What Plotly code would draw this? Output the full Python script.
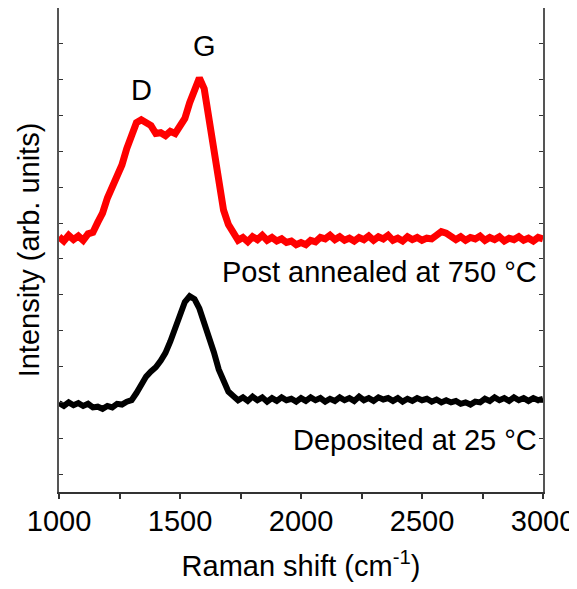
import plotly.graph_objects as go

# Raman shift axis (cm^-1), sampled every 20 cm^-1
raman_shift = list(range(1000, 3001, 20))

# Post annealed at 750 °C (offset upward)
post_annealed = [
    6.62, 6.50, 6.66, 6.54, 6.64, 6.52, 6.70, 6.74, 7.02, 7.28,
    7.70, 7.98, 8.36, 8.62, 9.08, 9.50, 9.80, 9.88, 9.78, 9.72,
    9.50, 9.52, 9.44, 9.56, 9.50, 9.70, 9.92, 10.36, 10.68, 11.05,
    10.75, 9.95, 8.98, 8.08, 7.36, 6.96, 6.70, 6.52, 6.60, 6.48,
    6.62, 6.54, 6.66, 6.52, 6.60, 6.50, 6.56, 6.46, 6.50, 6.40,
    6.46, 6.40, 6.52, 6.48, 6.60, 6.56, 6.66, 6.54, 6.62, 6.52,
    6.58, 6.50, 6.60, 6.54, 6.64, 6.52, 6.62, 6.56, 6.66, 6.52,
    6.58, 6.50, 6.62, 6.54, 6.60, 6.52, 6.58, 6.56, 6.66, 6.76,
    6.72, 6.60, 6.54, 6.62, 6.52, 6.60, 6.56, 6.64, 6.52, 6.60,
    6.54, 6.62, 6.50, 6.58, 6.54, 6.62, 6.52, 6.58, 6.50, 6.60,
    6.56,
]

# Deposited at 25 °C
deposited = [
    1.98, 1.90, 2.00, 1.92, 1.98, 1.90, 1.96, 1.86, 1.88, 1.82,
    1.90, 1.86, 1.96, 1.94, 2.02, 2.06, 2.26, 2.48, 2.72, 2.86,
    2.98, 3.16, 3.38, 3.70, 4.08, 4.48, 4.80, 4.96, 4.88, 4.62,
    4.24, 3.84, 3.40, 2.92, 2.56, 2.30, 2.18, 2.06, 2.14, 2.04,
    2.16, 2.06, 2.14, 2.02, 2.12, 2.04, 2.14, 2.06, 2.10, 2.02,
    2.12, 2.04, 2.14, 2.06, 2.12, 2.02, 2.10, 2.04, 2.14, 2.06,
    2.12, 2.04, 2.16, 2.06, 2.12, 2.04, 2.14, 2.08, 2.12, 2.04,
    2.12, 2.02, 2.10, 2.04, 2.12, 2.06, 2.10, 2.02, 2.08, 2.00,
    2.06, 2.00, 2.04, 1.96, 2.00, 1.94, 2.02, 2.00, 2.10, 2.04,
    2.14, 2.06, 2.12, 2.04, 2.14, 2.06, 2.12, 2.04, 2.12, 2.06,
    2.10,
]

FONT = "Liberation Sans, Arial, sans-serif"

fig = go.Figure()
fig.add_trace(go.Scatter(x=raman_shift, y=post_annealed, mode="lines",
                         line=dict(color="#ff0000", width=7), showlegend=False))
fig.add_trace(go.Scatter(x=raman_shift, y=deposited, mode="lines",
                         line=dict(color="#000000", width=6), showlegend=False))

ann_font = dict(family=FONT, size=29, color="#000000")
fig.add_annotation(x=1340, y=10.7, text="D", showarrow=False, font=ann_font, xanchor="center", yanchor="middle")
fig.add_annotation(x=1600, y=11.95, text="G", showarrow=False, font=ann_font, xanchor="center", yanchor="middle")
fig.add_annotation(x=2985, y=5.65, text="Post annealed at 750 °C", showarrow=False, font=ann_font, xanchor="right", yanchor="middle")
fig.add_annotation(x=2985, y=0.95, text="Deposited at 25 °C", showarrow=False, font=ann_font, xanchor="right", yanchor="middle")

# the page body adds an 8 px offset, so the figure is sized to fit the window
fig.update_layout(
    width=569, height=581,
    margin=dict(l=51, r=34, t=0, b=97, autoexpand=False),
    paper_bgcolor="white", plot_bgcolor="white",
    font=dict(family=FONT, size=29, color="#000000"),
)
fig.update_xaxes(
    range=[1000, 3000], dtick=500, tick0=1000,
    ticks="outside", ticklen=5, tickwidth=1.5, tickcolor="#333333",
    minor=dict(dtick=250, ticks="outside", ticklen=5, tickwidth=1.5, tickcolor="#333333"),
    showline=True, linecolor="#333333", linewidth=1.5, mirror="ticks",
    showgrid=False, zeroline=False, automargin=False,
    tickfont=dict(family=FONT, size=29), ticklabelstandoff=-3,
    title=dict(text="Raman shift (cm<sup>-1</sup>)", font=dict(family=FONT, size=29), standoff=20),
)
fig.update_yaxes(
    range=[-0.5, 13], dtick=1, tick0=0,
    ticks="inside", ticklen=4, tickwidth=1.2, tickcolor="#333333",
    showticklabels=False,
    showline=True, linecolor="#555555", linewidth=1.5, mirror="ticks",
    showgrid=False, zeroline=False, automargin=False,
    title=dict(text="Intensity (arb. units)", font=dict(family=FONT, size=29), standoff=9),
)

fig.write_html("out.html")
